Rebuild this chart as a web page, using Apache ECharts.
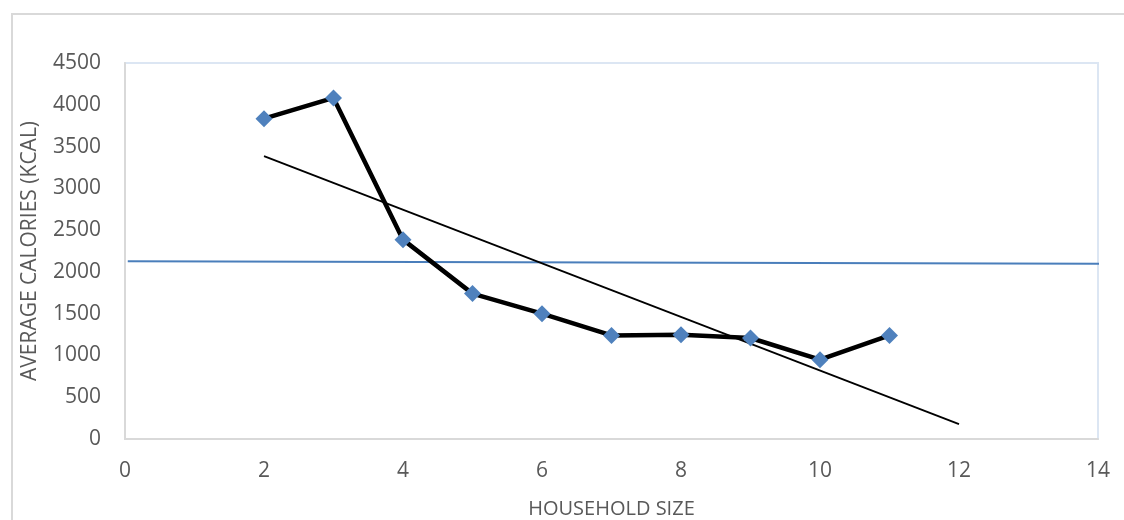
<!DOCTYPE html>
<html>
<head>
<meta charset="utf-8">
<style>
  html, body { margin: 0; padding: 0; background: #ffffff; }
  #chart { width: 1124px; height: 520px; }
</style>
<script src="https://cdn.jsdelivr.net/npm/echarts@6/dist/echarts.min.js"></script>
</head>
<body>
<div id="chart"></div>
<script>
// Average daily calories by household size
const householdSize = [2, 3, 4, 5, 6, 7, 8, 9, 10, 11];
const avgCalories = [3834, 4082, 2386, 1740, 1500, 1240, 1249, 1209, 949, 1240];

// Linear trend line (forecast to 12)
const trendX = [2, 12];
const trendY = [3385, 178];

// Reference level line
const refX = [0.04, 14.1];
const refY = [2128, 2097];

const xTicks = [0, 2, 4, 6, 8, 10, 12, 14];
const yTicks = [0, 500, 1000, 1500, 2000, 2500, 3000, 3500, 4000, 4500];

const textColor = '#595959';
const fontFamily = '"Open Sans", "Liberation Sans", sans-serif';

const pairs = (xs, ys) => xs.map((x, i) => [x, ys[i]]);

const chart = echarts.init(document.getElementById('chart'), null, { renderer: 'canvas' });

chart.setOption({
  animation: false,
  backgroundColor: '#ffffff',
  textStyle: { fontFamily: fontFamily, color: textColor },
  graphic: [{
    type: 'rect',
    shape: { x: 12, y: 14, width: 1300, height: 700 },
    style: { fill: 'none', stroke: '#d9d9d9', lineWidth: 2 },
    silent: true,
    z: -1
  }],
  grid: {
    left: 125, right: 26, top: 63, bottom: 81,
    outerBoundsMode: 'none',
    containLabel: false,
    show: true,
    borderColor: '#dce6f3',
    borderWidth: 2,
    backgroundColor: 'transparent'
  },
  xAxis: {
    type: 'value',
    min: xTicks[0],
    max: xTicks[xTicks.length - 1],
    interval: 2,
    name: 'HOUSEHOLD SIZE',
    nameLocation: 'middle',
    nameGap: 60,
    nameTextStyle: { fontSize: 20, color: textColor, fontFamily: fontFamily },
    axisLine: { show: true, lineStyle: { color: '#d9d9d9', width: 2 } },
    axisTick: { show: false },
    splitLine: { show: false },
    axisLabel: {
      fontSize: 21, color: textColor, margin: 22, fontFamily: fontFamily,
      formatter: v => String(v)
    }
  },
  yAxis: {
    type: 'value',
    min: yTicks[0],
    max: yTicks[yTicks.length - 1],
    interval: 500,
    name: 'AVERAGE CALORIES (KCAL)',
    nameLocation: 'middle',
    nameRotate: 90,
    nameGap: 84,
    nameTextStyle: { fontSize: 21, color: textColor, fontFamily: fontFamily },
    axisLine: { show: true, lineStyle: { color: '#d9d9d9', width: 2 } },
    axisTick: { show: false },
    splitLine: { show: false },
    axisLabel: {
      fontSize: 21, color: textColor, margin: 24, fontFamily: fontFamily,
      formatter: v => String(v)
    }
  },
  series: [
    {
      name: 'Reference',
      type: 'line',
      data: pairs(refX, refY),
      symbol: 'none',
      clip: false,
      lineStyle: { color: '#4a7ebb', width: 2 },
      z: 1
    },
    {
      name: 'Trend',
      type: 'line',
      data: pairs(trendX, trendY),
      symbol: 'none',
      lineStyle: { color: '#000000', width: 1.8 },
      z: 2
    },
    {
      name: 'Average calories',
      type: 'line',
      data: pairs(householdSize, avgCalories),
      symbol: 'diamond',
      symbolSize: 17,
      itemStyle: { color: '#4f81bd' },
      lineStyle: { color: '#000000', width: 4.5 },
      z: 3
    }
  ]
});
</script>
</body>
</html>
